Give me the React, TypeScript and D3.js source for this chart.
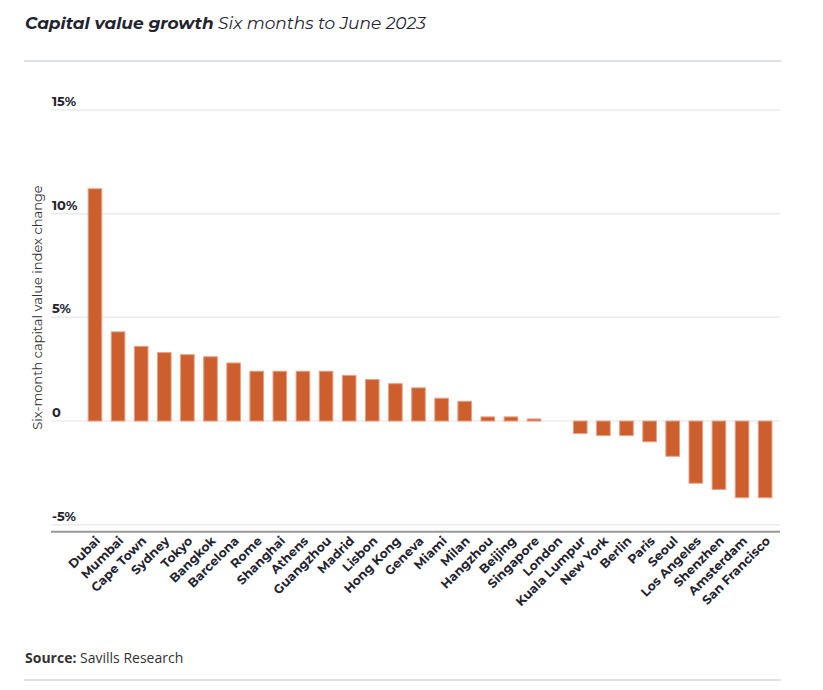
import React from "react";
import * as d3 from "d3";

const cities = [
  "Dubai", "Mumbai", "Cape Town", "Sydney", "Tokyo", "Bangkok", "Barcelona", "Rome",
  "Shanghai", "Athens", "Guangzhou", "Madrid", "Lisbon", "Hong Kong", "Geneva", "Miami",
  "Milan", "Hangzhou", "Beijing", "Singapore", "London", "Kuala Lumpur", "New York",
  "Berlin", "Paris", "Seoul", "Los Angeles", "Shenzhen", "Amsterdam", "San Francisco",
];
const growth = [
  11.2, 4.3, 3.6, 3.3, 3.2, 3.1, 2.8, 2.4, 2.4, 2.4, 2.4, 2.2, 2.0, 1.8, 1.6, 1.1,
  0.95, 0.2, 0.2, 0.1, 0, -0.6, -0.7, -0.7, -1.0, -1.7, -3.0, -3.3, -3.7, -3.7,
];
const yTicks = [15, 10, 5, 0, -5];
const yTickLabels = ["15%", "10%", "5%", "0", "-5%"];

const W = 823;
const H = 690;

export default function App() {
  const x = d3.scaleBand<string>()
    .domain(cities)
    .range([83.4, 776.7])
    .paddingInner(0.41)
    .paddingOuter(0.205);
  const y = d3.scaleLinear().domain([-5, 15]).range([524.7, 110]);
  const gridX0 = 51;
  const gridX1 = 780;
  const axisY = y(-5) + 7;
  const barFill = "#cd5f2e";
  const barStroke = "#e7a084";
  const sans = "Montserrat, 'Open Sans', 'DejaVu Sans', sans-serif";

  return (
    <svg width={W} height={H} style={{ position: "absolute", left: 0, top: 0, background: "#fff" }}>
      {/* Title */}
      <text x={25} y={29} fontFamily={sans} fontSize={17} fill="#232330" fontStyle="italic">
        <tspan fontWeight={700}>Capital value growth</tspan>
        <tspan fontWeight={400}> Six months to June 2023</tspan>
      </text>
      <line x1={24} x2={781} y1={61} y2={61} stroke="#dde1e6" strokeWidth={2} />

      {/* Gridlines */}
      {yTicks.map((t) => (
        <line key={"g" + t} x1={gridX0} x2={gridX1} y1={y(t)} y2={y(t)} stroke="#ececec" strokeWidth={1.5} />
      ))}
      {/* Y tick labels */}
      {yTicks.map((t, i) => (
        <text key={"t" + t} x={52} y={y(t) - 4} fontFamily={sans} fontSize={13} fontWeight={700} fill="#232330">
          {yTickLabels[i]}
        </text>
      ))}

      {/* Y axis title */}
      <text
        transform={`translate(42, ${(187 + 428) / 2}) rotate(-90)`}
        textAnchor="middle"
        fontFamily={sans}
        fontSize={13}
        fill="#333"
      >
        Six-month capital value index change
      </text>

      {/* Bars */}
      {cities.map((c, i) => {
        const v = growth[i];
        if (v === 0) return null;
        const y0 = y(Math.max(0, v));
        const y1 = y(Math.min(0, v));
        return (
          <rect
            key={c}
            x={x(c)!}
            y={y0}
            width={x.bandwidth()}
            height={Math.max(1, y1 - y0)}
            fill={barFill}
            stroke={barStroke}
            strokeWidth={1}
          />
        );
      })}

      {/* X axis line */}
      <line x1={gridX0} x2={gridX1} y1={axisY} y2={axisY} stroke="#999" strokeWidth={2} />

      {/* X labels */}
      {cities.map((c) => {
        const cx = x(c)! + x.bandwidth() / 2 + 6;
        return (
          <text
            key={"l" + c}
            transform={`translate(${cx}, ${axisY + 10}) rotate(-45)`}
            textAnchor="end"
            fontFamily={sans}
            fontSize={12.5}
            fontWeight={700}
            fill="#232330"
          >
            {c}
          </text>
        );
      })}

      {/* Source */}
      <text x={25} y={663} fontFamily="'Liberation Sans Narrow', 'Open Sans', sans-serif" fontSize={14} fill="#333">
        <tspan fontWeight={700}>Source:</tspan>
        <tspan> Savills Research</tspan>
      </text>
      <line x1={24} x2={781} y1={680} y2={680} stroke="#dde1e6" strokeWidth={2} />
    </svg>
  );
}
